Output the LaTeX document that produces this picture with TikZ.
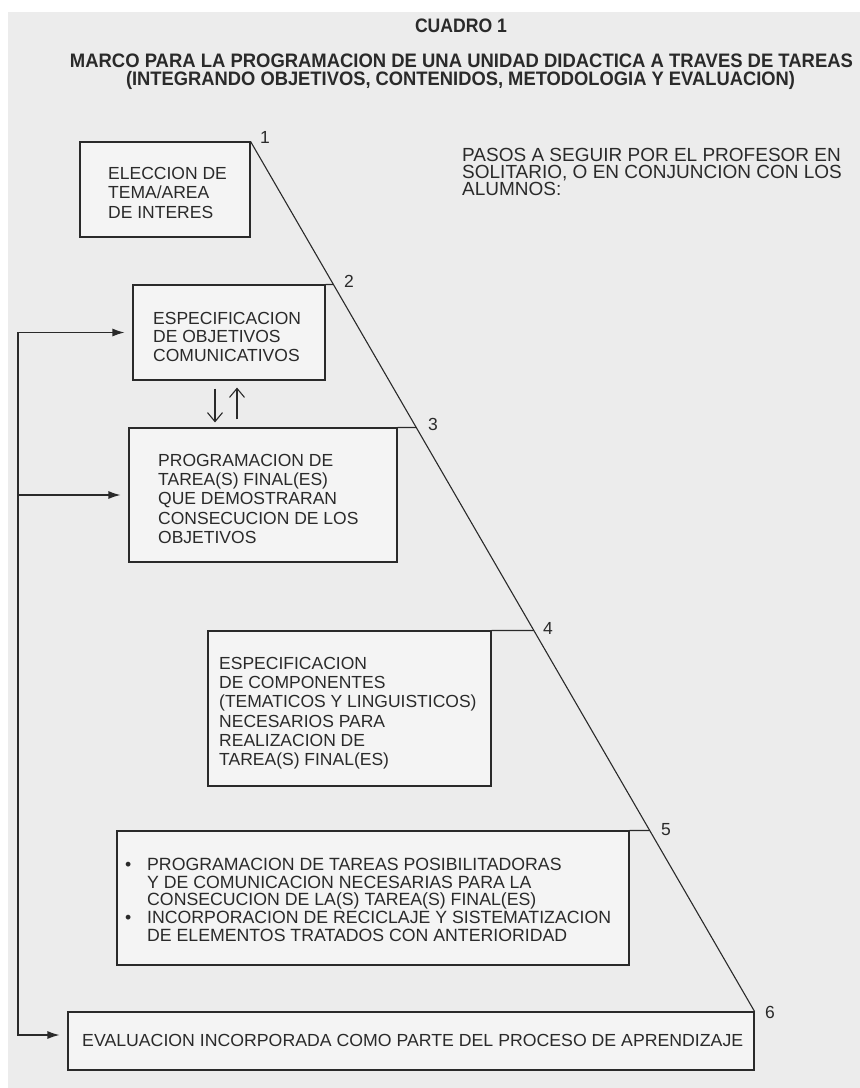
\documentclass[tikz,border=0pt]{standalone}
\usepackage{fontspec}
\setmainfont{Liberation Sans}
\usetikzlibrary{arrows.meta}
\definecolor{pagebg}{RGB}{236,236,236}
\definecolor{boxbg}{RGB}{244,244,244}
\definecolor{ink}{RGB}{42,42,42}
\begin{document}
\begin{tikzpicture}[x=1pt,y=-1pt,
  box/.style={draw=ink, line width=1.1pt, fill=boxbg, rectangle, inner sep=0pt},
  txt/.style={inner sep=0pt, align=left, anchor=north west, text=ink},
  num/.style={inner sep=0pt, text=ink, anchor=base west, font=\fontsize{17.5}{19}\selectfont},
  ttl/.style={inner sep=0pt, anchor=base, text=ink, font=\bfseries\fontsize{19.5}{22}\selectfont},
  line/.style={draw=ink, line width=1.1pt},
  arr/.style={line, -{Latex[length=12pt,width=8pt]}, shorten >=8pt},
  barb/.style={line, -{Straight Barb[length=9pt,width=15pt]}}]
\useasboundingbox (0,0) rectangle (860,1088);
\fill[white] (0,0) rectangle (860,1088);
\fill[pagebg] (8,12) rectangle (860,1088);

% title
\node[ttl] (cuadro) at (461,32) {\resizebox{92pt}{\height}{CUADRO 1}};
\node[ttl] (title1) at (461.5,67) {\resizebox{783pt}{\height}{MARCO PARA LA PROGRAMACION DE UNA UNIDAD DIDACTICA A TRAVES DE TAREAS}};
\node[ttl] (title2) at (460.5,85) {\resizebox{669pt}{\height}{(INTEGRANDO OBJETIVOS, CONTENIDOS, METODOLOGIA Y EVALUACION)}};

% side note
\node[txt, font=\fontsize{19}{17}\selectfont] (pasos) at (462,148.5)
  {PASOS A SEGUIR POR EL PROFESOR EN\\SOLITARIO, O EN CONJUNCION CON LOS\\ALUMNOS:};

% boxes
\node[box, minimum width=170pt, minimum height=95pt]  (b1) at (165,189.5) {};
\node[box, minimum width=192pt, minimum height=95pt]  (b2) at (229,332.5) {};
\node[box, minimum width=268pt, minimum height=134pt] (b3) at (263,495) {};
\node[box, minimum width=283pt, minimum height=155pt] (b4) at (349.5,708.5) {};
\node[box, minimum width=512pt, minimum height=134pt] (b5) at (373,898) {};
\node[box, minimum width=686pt, minimum height=58pt]  (b6) at (411,1041) {};

% box texts
\node[txt, font=\fontsize{17.5}{19.5}\selectfont] (t1) at (108,167)
  {ELECCION DE\\TEMA/AREA\\DE INTERES};
\node[txt, font=\fontsize{17.5}{18.5}\selectfont] (t2) at (153,312)
  {ESPECIFICACION\\DE OBJETIVOS\\COMUNICATIVOS};
\node[txt, font=\fontsize{17.5}{19.2}\selectfont] (t3) at (158,454)
  {PROGRAMACION DE\\TAREA(S) FINAL(ES)\\QUE DEMOSTRARAN\\CONSECUCION DE LOS\\OBJETIVOS};
\node[txt, font=\fontsize{17.5}{19.2}\selectfont] (t4) at (219,657)
  {ESPECIFICACION\\DE COMPONENTES\\(TEMATICOS Y LINGUISTICOS)\\NECESARIOS PARA\\REALIZACION DE\\TAREA(S) FINAL(ES)};
\node[txt, font=\fontsize{17.7}{17.7}\selectfont] (t5) at (125,858)
  {\makebox[22pt][l]{\textbullet}PROGRAMACION DE TAREAS POSIBILITADORAS\\
   \hspace*{22pt}Y DE COMUNICACION NECESARIAS PARA LA\\
   \hspace*{22pt}CONSECUCION DE LA(S) TAREA(S) FINAL(ES)\\
   \makebox[22pt][l]{\textbullet}INCORPORACION DE RECICLAJE Y SISTEMATIZACION\\
   \hspace*{22pt}DE ELEMENTOS TRATADOS CON ANTERIORIDAD};
\node[txt, font=\fontsize{17.5}{19}\selectfont] (t6) at (82,1034)
  {\resizebox{661pt}{\height}{EVALUACION INCORPORADA COMO PARTE DEL PROCESO DE APRENDIZAJE}};

% numbers
\node[num] (n1) at (260,143) {1};
\node[num] (n2) at (344,287) {2};
\node[num] (n3) at (428,430) {3};
\node[num] (n4) at (543,634) {4};
\node[num] (n5) at (661,835) {5};
\node[num] (n6) at (765,1018) {6};

% diagonal and box top extensions
\coordinate (dA) at (b1.north east);
\coordinate (dB) at (b6.north east);
\draw[line] (dA) -- (dB);
\draw[line] (b2.north east) -- (intersection of dA--dB and b2.north west--b2.north east);
\draw[line] (b3.north east) -- (intersection of dA--dB and b3.north west--b3.north east);
\draw[line] (b4.north east) -- (intersection of dA--dB and b4.north west--b4.north east);
\draw[line] (b5.north east) -- (intersection of dA--dB and b5.north west--b5.north east);

% arrows between box 2 and box 3
\coordinate (d0) at ([xshift=-14pt]b2.south);
\coordinate (u0) at ([xshift=8pt]b2.south);
\draw[barb, shorten <=8pt, shorten >=5pt] (d0) -- (d0 |- b3.north);
\draw[barb, shorten <=8pt, shorten >=7pt] (u0 |- b3.north) -- (u0);

% feedback loop on the left
\coordinate (lt) at (18,332.5);
\coordinate (lb) at (18,1035);
\draw[arr] (lb) |- (b2.west);
\draw[arr] (lt) |- (lb -| b6.west);
\draw[arr] (lt |- b3.west) -- (b3.west);
\end{tikzpicture}
\end{document}
